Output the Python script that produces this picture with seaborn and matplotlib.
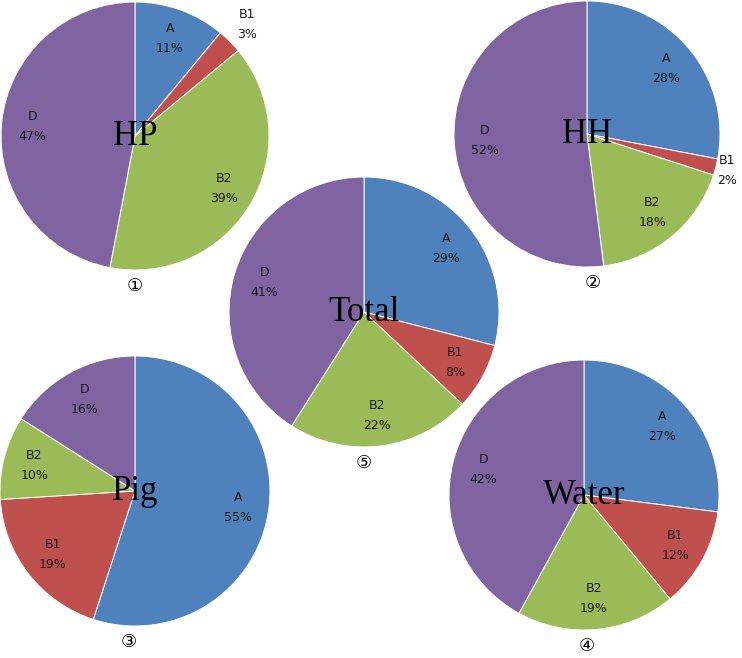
import numpy as np
import matplotlib
matplotlib.use("Agg")
import matplotlib.pyplot as plt
import seaborn as sns

# data
categories = ["A", "B1", "B2", "D"]
hp_values = [11, 3, 39, 47]
hh_values = [28, 2, 18, 52]
total_values = [29, 8, 22, 41]
pig_values = [55, 19, 10, 16]
water_values = [27, 12, 19, 42]
titles = ["HP", "HH", "Total", "Pig", "Water"]
numbers = ["\u2460", "\u2461", "\u2464", "\u2462", "\u2463"]

sns.set_theme(style="white")
palette = sns.color_palette(["#4F81BD", "#C0504D", "#9BBB59", "#8064A2"])

W, H = 742, 658
fig = plt.figure(figsize=(W / 100, H / 100), dpi=100)
fig.patch.set_facecolor("white")

# layout in pixels: center x, center y, radius, number x-offset, outside label distance
layout = {
    "HP": (135, 136, 134, 0.0, 1.18),
    "HH": (587, 134, 133, 0.045, 1.09),
    "Total": (364, 312, 135, 0.0, 1.15),
    "Pig": (135, 491, 135, -0.05, 1.15),
    "Water": (584, 495, 135, 0.02, 1.15),
}


def draw_pie(values, title, num):
    cx, cy, r, nx, out_d = layout[title]
    ax = fig.add_axes([(cx - r) / W, 1 - (cy + r) / H, 2 * r / W, 2 * r / H])
    wedges, _ = ax.pie(values, colors=palette, startangle=90, counterclock=False,
                       radius=1, wedgeprops=dict(edgecolor="white", linewidth=0.7))
    ax.set_xlim(-1, 1)
    ax.set_ylim(-1, 1)
    ax.set_aspect("equal")
    ax.axis("off")
    for w, cat, v in zip(wedges, categories, values):
        ang = np.deg2rad((w.theta1 + w.theta2) / 2)
        d = 0.77 if v >= 5 else out_d
        ax.text(d * np.cos(ang), d * np.sin(ang), f"{cat}\n{v}%", ha="center", va="center",
                fontsize=9, linespacing=1.7, color="#1a1a1a", clip_on=False)
    ax.text(0, -0.07, title, family="Liberation Serif", fontsize=25, ha="center",
            va="baseline", color="black")
    ax.text(nx, -1.12, num, family=["DejaVu Sans", "Noto Sans CJK SC"], fontsize=13,
            ha="center", va="center", color="black", clip_on=False)


for vals, t, n in zip([hp_values, hh_values, total_values, pig_values, water_values],
                      titles, numbers):
    draw_pie(vals, t, n)

fig.savefig("out.png", dpi=100)
